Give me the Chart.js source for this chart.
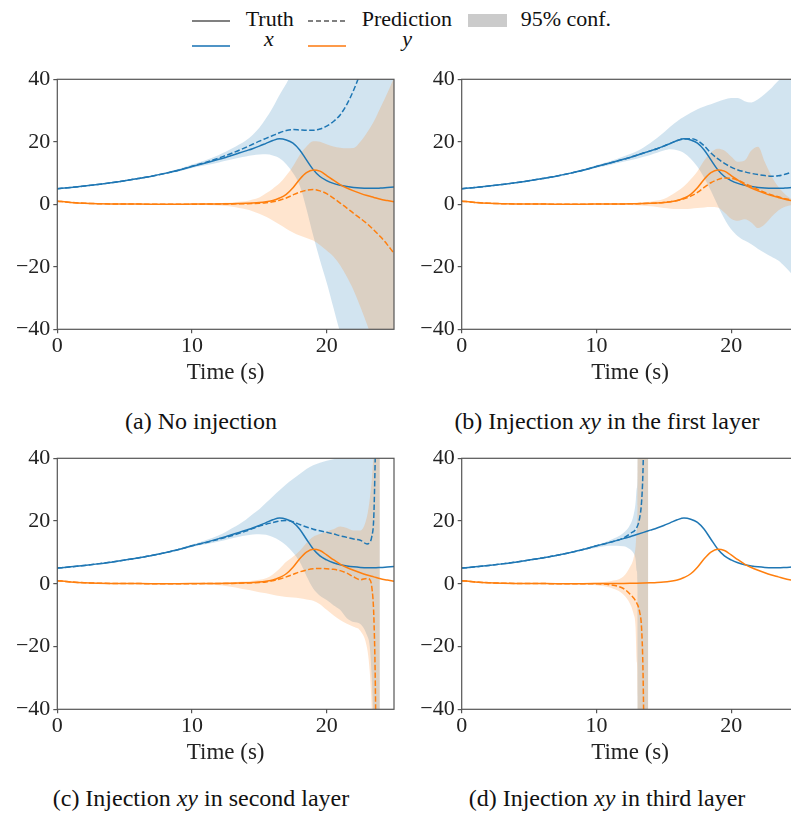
<!DOCTYPE html>
<html>
<head>
<meta charset="utf-8">
<title>Trajectory prediction with noise injection</title>
<script src="https://cdn.jsdelivr.net/npm/chart.js@4.4.1/dist/chart.umd.min.js"></script>
<style>
  html, body { margin: 0; padding: 0; background: #fff; }
  body { position: relative; width: 791px; height: 818px; overflow: hidden; color: #111;
         font-family: 'Liberation Serif', 'Times New Roman', serif; }
  canvas { position: absolute; }
  .key { position: absolute; font-family: 'Liberation Serif', serif; font-size: 22px; line-height: 22px; white-space: nowrap; }
  .swatch { position: absolute; }
  .caption { position: absolute; font-family: 'Liberation Serif', serif; width: 406px; text-align: center; font-size: 24px;
             line-height: 24px; white-space: nowrap; }
  .it { font-family: 'Liberation Serif', serif; font-style: italic; }
</style>
</head>
<body>

<!-- shared legend -->
<div class="swatch" style="left:192px;top:20px;width:38px;height:1.5px;background:#808080"></div>
<div class="key" style="left:245.7px;top:8.3px">Truth</div>
<div class="swatch" style="left:308px;top:20px;width:38px;height:1.5px;background:repeating-linear-gradient(to right,#808080 0 5.5px,transparent 5.5px 8px)"></div>
<div class="key" style="left:361.7px;top:8.3px">Prediction</div>
<div class="swatch" style="left:468px;top:14px;width:39px;height:13px;background:#cbcbcb"></div>
<div class="key" style="left:520.7px;top:8.3px">95% conf.</div>
<div class="swatch" style="left:192px;top:45px;width:38px;height:1.5px;background:#4f94c6"></div>
<div class="key" style="left:245px;top:28.3px;width:48px;text-align:center"><span class="it">x</span></div>
<div class="swatch" style="left:308px;top:45px;width:38px;height:1.5px;background:#fd9a4a"></div>
<div class="key" style="left:361.7px;top:28.3px;width:91px;text-align:center"><span class="it">y</span></div>

<div class="caption" style="left:-2px;top:409px">(a) No injection</div>
<div class="caption" style="left:404px;top:409px">(b) Injection <span class="it">xy</span> in the first layer</div>
<div class="caption" style="left:-2px;top:786px">(c) Injection <span class="it">xy</span> in second layer</div>
<div class="caption" style="left:404px;top:786px">(d) Injection <span class="it">xy</span> in third layer</div>

<canvas id="pa" width="400" height="335" style="left:0;top:60px"></canvas>
<canvas id="pb" width="400" height="335" style="left:400px;top:60px"></canvas>
<canvas id="pc" width="400" height="335" style="left:0;top:440px"></canvas>
<canvas id="pd" width="400" height="335" style="left:400px;top:440px"></canvas>

<script>
// ---- time grids (s) ----
const TIME = [0,1,2,3,4,5,6,7,8,9,10,11,12,12.5,13,13.5,14,14.5,15,15.5,16,16.5,17,17.5,18,18.5,19,19.5,20,20.5,21,21.5,22,22.5,23,23.5,24,24.5,25];
const T_C_PRED = [0,1,2,3,4,5,6,7,8,9,10,11,12,12.5,13,13.5,14,14.5,15,15.5,16,16.5,17,17.5,18,18.5,19,19.5,20,20.5,21,21.5,22,22.5,23,23.2,23.35,23.5,23.6,23.65];
const T_C_BAND = [0,1,2,3,4,5,6,7,8,9,10,11,12,12.5,13,13.5,14,14.5,15,15.5,16,16.5,17,17.5,18,18.5,19,19.5,20,20.5,21,21.5,22,22.5,23,23.2,23.35,23.5,23.6,23.7,23.95];
const T_D_PRED = [0,1,2,3,4,5,6,7,8,9,10,11,12,12.5,13,13.2,13.35,13.45,13.52];
const T_D_BAND = [0,1,2,3,4,5,6,7,8,9,10,11,12,12.5,12.75,12.9,13.0,13.05,13.1,13.85];

// ---- ground truth ----
const TRUTH_X = [5.0,5.4,5.85,6.35,6.9,7.55,8.25,9.0,9.9,10.9,12.1,13.2,14.4,15.0,15.7,16.4,17.1,17.8,18.6,19.5,20.4,20.95,20.6,19.6,17.4,14.2,11.1,8.9,7.6,6.7,6.1,5.7,5.4,5.2,5.1,5.1,5.2,5.35,5.5];
const TRUTH_Y = [1.0,0.6,0.35,0.2,0.12,0.08,0.06,0.05,0.05,0.05,0.06,0.08,0.12,0.15,0.2,0.27,0.35,0.45,0.6,0.85,1.2,2.0,3.2,5.3,8.0,10.1,11.0,10.6,9.2,7.7,6.3,5.2,4.3,3.5,2.8,2.2,1.6,1.2,0.8];

// ---- (a) no injection ----
const PRED_A_X = [5.0,5.4,5.85,6.35,6.9,7.55,8.25,9.0,9.9,10.9,12.2,13.4,14.8,15.6,16.4,17.3,18.2,19.2,20.2,21.1,22.0,22.9,23.6,23.9,23.8,23.7,23.7,24.1,25.0,26.5,28.6,32.0,36.5,42.0,48.0,54.0,60.0,66.0,72.0];
const UP_A_X = [5.0,5.4,5.9,6.4,7.0,7.7,8.4,9.2,10.2,11.3,12.7,14.1,15.8,16.8,17.9,19.1,20.4,22.2,24.5,27.5,31.0,35.0,38.6,42.5,46.0,51.0,56.0,60.0,64.0,68.0,72.0,76.0,80.0,84.0,88.0,92.0,96.0,100.0,104.0];
const LO_A_X = [5.0,5.4,5.8,6.3,6.8,7.4,8.1,8.8,9.6,10.5,11.6,12.5,13.4,13.9,14.4,14.9,15.3,15.7,15.9,16.0,15.6,14.7,12.8,10.0,6.0,-1.5,-10.0,-17.8,-25.0,-33.0,-41.0,-48.0,-55.0,-62.0,-69.0,-76.0,-83.0,-90.0,-97.0];
const PRED_A_Y = [1.0,0.6,0.35,0.2,0.12,0.08,0.06,0.05,0.05,0.05,0.05,0.06,0.08,0.1,0.12,0.16,0.2,0.27,0.35,0.5,0.8,1.3,2.0,3.0,3.9,4.5,4.7,4.3,3.4,2.0,0.4,-1.2,-2.9,-4.5,-6.2,-8.2,-10.4,-12.9,-15.7];
const UP_A_Y = [1.0,0.62,0.38,0.23,0.15,0.12,0.11,0.11,0.13,0.16,0.2,0.28,0.4,0.5,0.6,0.8,1.0,1.5,2.2,3.5,5.0,6.7,9.2,12.2,15.8,18.5,20.2,20.0,19.2,18.5,18.1,17.9,18.0,20.0,23.0,26.5,31.0,35.5,40.5];
const LO_A_Y = [1.0,0.58,0.32,0.17,0.09,0.04,0.01,-0.01,-0.03,-0.06,-0.1,-0.2,-0.4,-0.55,-0.8,-1.2,-1.6,-2.2,-3.0,-4.0,-5.2,-6.5,-7.8,-9.0,-10.0,-10.8,-11.6,-13.0,-14.8,-16.7,-19.5,-23.2,-27.5,-32.8,-38.5,-44.5,-50.5,-56.5,-62.5];

// ---- (b) injection in the first layer ----
const PRED_B_X = [5.0,5.4,5.85,6.35,6.9,7.55,8.25,9.0,9.9,10.9,12.1,13.2,14.4,15.0,15.7,16.4,17.1,17.8,18.6,19.5,20.4,20.9,21.0,20.4,18.7,16.4,14.6,13.1,11.9,11.0,10.4,9.9,9.5,9.2,9.0,9.1,9.6,10.3,11.0];
const UP_B_X = [5.0,5.4,5.9,6.4,7.0,7.65,8.4,9.2,10.1,11.2,12.5,13.8,15.3,16.1,17.0,18.2,19.6,21.2,23.0,24.9,26.6,28.0,29.3,30.4,31.3,32.0,32.8,33.5,34.0,34.0,33.0,32.6,33.6,35.3,37.2,39.5,41.5,43.0,45.0];
const LO_B_X = [5.0,5.4,5.8,6.3,6.8,7.45,8.1,8.8,9.7,10.6,11.7,12.6,13.6,14.1,14.6,15.2,15.8,16.5,17.2,17.6,17.3,16.4,14.6,12.0,8.5,4.3,-0.3,-4.6,-8.0,-10.2,-11.6,-12.8,-14.3,-15.6,-16.8,-18.0,-20.0,-22.3,-24.5];
const PRED_B_Y = [1.0,0.6,0.35,0.2,0.12,0.08,0.06,0.05,0.05,0.05,0.06,0.08,0.12,0.15,0.2,0.27,0.35,0.45,0.6,0.85,1.2,1.8,2.6,3.8,5.4,6.9,7.9,8.4,8.3,7.7,6.7,5.7,4.7,3.8,3.0,2.4,1.8,1.4,1.0];
const UP_B_Y = [1.0,0.62,0.37,0.22,0.14,0.1,0.09,0.09,0.1,0.12,0.15,0.2,0.3,0.4,0.5,0.65,0.85,1.2,1.7,2.8,4.2,5.8,8.0,10.6,14.0,16.6,17.8,17.2,15.3,13.6,14.0,17.2,18.4,13.5,9.0,5.6,3.2,1.6,0.5];
const LO_B_Y = [1.0,0.58,0.33,0.18,0.1,0.06,0.03,0.01,0.0,-0.02,-0.04,-0.08,-0.15,-0.2,-0.3,-0.45,-0.65,-0.9,-1.2,-1.4,-1.5,-1.5,-1.4,-1.2,-1.0,-0.9,-1.0,-2.6,-4.6,-5.3,-4.8,-5.8,-7.6,-6.4,-4.0,-2.0,-0.8,-0.2,0.2];

// ---- (c) injection in the second layer ----
const PRED_C_X = [5.0,5.4,5.85,6.35,6.9,7.55,8.25,9.0,9.9,10.9,12.1,13.1,14.2,14.8,15.4,16.1,16.8,17.6,18.4,19.0,19.5,20.0,20.2,19.8,18.9,18.1,17.4,16.9,16.4,15.9,15.3,14.8,14.3,13.9,12.7,13.2,15.0,21.4,39.0,52.0];
const PRED_C_Y = [1.0,0.6,0.35,0.2,0.12,0.08,0.06,0.05,0.05,0.05,0.05,0.06,0.08,0.1,0.13,0.18,0.25,0.33,0.45,0.6,1.0,1.5,2.2,3.0,3.8,4.4,4.8,4.9,4.8,4.6,4.2,3.4,2.2,1.3,1.7,1.4,-1.0,-10.0,-28.0,-45.0];
const UP_C_X = [5.0,5.4,5.9,6.4,7.0,7.65,8.4,9.2,10.1,11.2,12.5,13.9,15.5,16.5,17.8,19.0,20.4,22.2,23.8,25.8,27.8,29.8,31.7,33.4,35.0,36.6,37.8,38.6,39.2,39.7,40.5,41.5,42.5,44.0,46.0,48.0,50.0,60.0,80.0,1000,1000];
const LO_C_X = [5.0,5.4,5.8,6.3,6.8,7.45,8.1,8.8,9.7,10.6,11.7,12.6,13.5,14.0,14.5,15.0,15.4,15.7,15.8,15.6,14.9,13.8,12.2,10.0,7.0,2.5,-1.5,-3.8,-5.2,-6.8,-8.3,-11.0,-12.2,-12.8,-16.5,-20.0,-30.0,-45.0,-70.0,-1000,-1000];
const UP_C_Y = [1.0,0.62,0.37,0.22,0.14,0.1,0.09,0.09,0.1,0.12,0.15,0.22,0.35,0.45,0.55,0.65,0.7,0.95,1.3,1.8,3.0,4.8,7.0,8.6,10.5,13.0,15.0,15.9,16.7,17.4,18.3,17.8,17.0,17.0,21.5,27.0,33.0,40.5,50.0,1000,1000];
const LO_C_Y = [1.0,0.58,0.33,0.18,0.1,0.05,0.02,0.0,-0.02,-0.05,-0.1,-0.2,-0.45,-0.7,-1.0,-1.4,-1.8,-2.2,-2.7,-3.0,-3.5,-3.9,-4.2,-4.4,-4.6,-5.0,-5.4,-6.5,-8.3,-10.0,-11.5,-12.7,-13.7,-15.0,-20.5,-28.0,-40.0,-60.0,-80.0,-1000,-1000];

// ---- (d) injection in the third layer ----
const PRED_D_X = [5.0,5.4,5.85,6.35,6.9,7.55,8.25,9.0,9.9,10.9,12.1,13.2,14.6,16.0,18.0,20.8,26.0,35.0,48.0];
const PRED_D_Y = [1.0,0.6,0.35,0.2,0.12,0.08,0.06,0.05,0.05,0.04,0.0,-0.3,-1.5,-3.3,-6.2,-8.8,-14.0,-26.0,-45.0];
const UP_D_X = [5.0,5.4,5.9,6.4,7.0,7.65,8.35,9.1,10.0,11.05,12.3,13.9,16.2,18.8,21.8,25.5,30.5,36.0,1000,1000];
const LO_D_X = [5.0,5.4,5.8,6.3,6.8,7.45,8.15,8.9,9.8,10.7,11.5,12.1,12.0,11.0,9.8,8.0,4.0,-2.0,-1000,-1000];
const UP_D_Y = [1.0,0.62,0.37,0.22,0.14,0.1,0.09,0.1,0.13,0.2,0.35,0.8,2.3,5.4,8.0,11.5,17.0,25.0,1000,1000];
const LO_D_Y = [1.0,0.58,0.33,0.18,0.1,0.05,0.02,0.0,-0.05,-0.15,-0.45,-1.2,-3.4,-6.4,-9.5,-13.5,-25.0,-36.0,-1000,-1000];

// ---- axis ticks ----
const X_TICKS = [0, 10, 20];
const Y_TICKS = [-40, -20, 0, 20, 40];

const BLUE = '#1f77b4', ORANGE = '#ff7f0e';
const BLUE_FILL = 'rgba(31,119,180,0.2)', ORANGE_FILL = 'rgba(255,127,14,0.2)';
const AXIS = '#555';
const DASH = [5.5, 2.4];
const SERIF = "'Liberation Serif', 'Times New Roman', serif";

Chart.defaults.font.family = SERIF;
Chart.defaults.color = '#222';

function pts(t, v) { return t.map((x, i) => ({ x, y: v[i] })); }

// box around the plotting area (all four spines)
const frame = {
  id: 'frame',
  afterDatasetsDraw(chart) {
    const { ctx, chartArea: a } = chart;
    ctx.save();
    ctx.strokeStyle = AXIS;
    ctx.lineWidth = 1.2;
    ctx.strokeRect(a.left, a.top, a.right - a.left, a.bottom - a.top);
    ctx.restore();
  }
};

function panel(id, p) {
  const line = (data, color, dashed) => ({
    data, borderColor: color, borderWidth: 1.5, borderDash: dashed ? DASH : [],
    pointRadius: 0, fill: false
  });
  const edge = (data, fill, bg) => ({
    data, borderWidth: 0, pointRadius: 0, fill, backgroundColor: bg, borderColor: 'transparent'
  });
  const datasets = [
    edge(pts(p.tBandY, p.upY), '+1', ORANGE_FILL),
    edge(pts(p.tBandY, p.loY), false),
    edge(pts(p.tBandX, p.upX), '+1', BLUE_FILL),
    edge(pts(p.tBandX, p.loX), false),
    line(pts(p.tPredY, p.predY), ORANGE, true),
    line(pts(TIME, TRUTH_Y), ORANGE, false),
    line(pts(p.tPredX, p.predX), BLUE, true),
    line(pts(TIME, TRUTH_X), BLUE, false)
  ];
  const grid = { drawOnChartArea: false, drawTicks: true, tickLength: 4, color: AXIS, lineWidth: 1.2 };
  new Chart(document.getElementById(id), {
    type: 'line',
    data: { datasets },
    plugins: [frame],
    options: {
      responsive: false, animation: false, devicePixelRatio: 1, events: [],
      layout: { padding: { top: p.padTop, right: p.padRight, left: 0, bottom: 0 } },
      elements: { line: { cubicInterpolationMode: 'monotone' } },
      plugins: {
        legend: { display: false }, tooltip: { enabled: false },
        filler: { drawTime: 'beforeDatasetsDraw', propagate: false }
      },
      scales: {
        x: {
          type: 'linear', min: 0, max: 25,
          afterBuildTicks: s => { s.ticks = X_TICKS.map(v => ({ value: v })); },
          afterFit: s => { s.height = 65.7; },
          ticks: { padding: 0, maxRotation: 0, autoSkip: false, font: { family: SERIF, size: 22 }, color: '#222' },
          grid, border: { display: false },
          title: { display: true, text: 'Time (s)', color: '#222', font: { family: SERIF, size: 23 },
                   padding: { top: 0, bottom: 8 } }
        },
        y: {
          min: -40, max: 40,
          afterBuildTicks: s => { s.ticks = Y_TICKS.map(v => ({ value: v })); },
          afterFit: s => { s.width = p.yWidth; },
          ticks: { padding: 3, font: { family: SERIF, size: 22 }, color: '#222',
                   callback: v => (v < 0 ? '\u2212' + Math.abs(v) : String(v)) },
          grid, border: { display: false }
        }
      }
    }
  });
}

panel('pa', { yWidth: 57.3, padTop: 19.3, padRight: 6,
  tBandX: TIME, upX: UP_A_X, loX: LO_A_X, tBandY: TIME, upY: UP_A_Y, loY: LO_A_Y,
  tPredX: TIME, predX: PRED_A_X, tPredY: TIME, predY: PRED_A_Y });
panel('pb', { yWidth: 61.7, padTop: 19.3, padRight: 1.5,
  tBandX: TIME, upX: UP_B_X, loX: LO_B_X, tBandY: TIME, upY: UP_B_Y, loY: LO_B_Y,
  tPredX: TIME, predX: PRED_B_X, tPredY: TIME, predY: PRED_B_Y });
panel('pc', { yWidth: 57.3, padTop: 18.3, padRight: 6,
  tBandX: T_C_BAND, upX: UP_C_X, loX: LO_C_X, tBandY: T_C_BAND, upY: UP_C_Y, loY: LO_C_Y,
  tPredX: T_C_PRED, predX: PRED_C_X, tPredY: T_C_PRED, predY: PRED_C_Y });
panel('pd', { yWidth: 61.7, padTop: 18.3, padRight: 1.5,
  tBandX: T_D_BAND, upX: UP_D_X, loX: LO_D_X, tBandY: T_D_BAND, upY: UP_D_Y, loY: LO_D_Y,
  tPredX: T_D_PRED, predX: PRED_D_X, tPredY: T_D_PRED, predY: PRED_D_Y });
</script>
</body>
</html>
